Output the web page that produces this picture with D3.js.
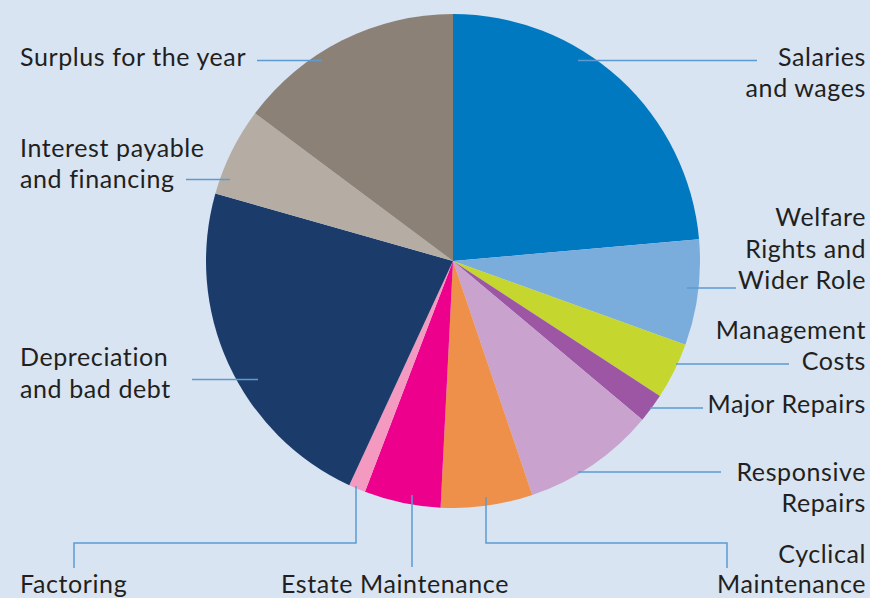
<!DOCTYPE html>
<html>
<head>
<meta charset="utf-8">
<script src="https://cdn.jsdelivr.net/npm/d3@7"></script>
<style>
  html, body { margin: 0; padding: 0; background: #d8e4f2; }
  svg { display: block; }
  text { font-family: "Lato", "Open Sans", sans-serif; fill: #231f20; }
</style>
</head>
<body>
<svg id="chart" width="870" height="598"></svg>
<script>
// ---- data ----
const categories = [
  "Salaries and wages", "Welfare Rights and Wider Role", "Management Costs",
  "Major Repairs", "Responsive Repairs", "Cyclical Maintenance",
  "Estate Maintenance", "Factoring", "Depreciation and bad debt",
  "Interest payable and financing", "Surplus for the year"
];
const values = [23.6, 6.9, 3.7, 1.9, 8.7, 6.0, 5.0, 1.1, 22.5, 5.8, 14.8];
const colors = [
  "#0079c1", "#7aaddc", "#c5d62f", "#9d56a4", "#c9a2cd", "#ee9049",
  "#ec008c", "#f49ac1", "#1b3c6b", "#b5ada3", "#8c8177"
];
const labelLines = [
  ["Salaries", "and wages"],
  ["Welfare", "Rights and", "Wider Role"],
  ["Management", "Costs"],
  ["Major Repairs"],
  ["Responsive", "Repairs"],
  ["Cyclical", "Maintenance"],
  ["Estate Maintenance"],
  ["Factoring"],
  ["Depreciation", "and bad debt"],
  ["Interest payable", "and financing"],
  ["Surplus for the year"]
];

// ---- layout (annotation placement) ----
const cx = 453, cy = 261, R = 247;
const labelLayout = [
  { x: 866, anchor: "end",   y0: 66,  lh: 31, leader: [[578, 60.5], [757, 60.5]] },
  { x: 866, anchor: "end",   y0: 226, lh: 31.5, leader: [[687, 288], [736, 288]] },
  { x: 866, anchor: "end",   y0: 339, lh: 31, leader: [[676, 364], [789, 364]] },
  { x: 866, anchor: "end",   y0: 413, lh: 31, leader: [[650, 408], [703, 408]] },
  { x: 866, anchor: "end",   y0: 481, lh: 31, leader: [[578, 472], [721, 472]] },
  { x: 866, anchor: "end",   y0: 563, lh: 30, leader: [[486, 497], [486, 543], [727, 543], [727, 568]] },
  { x: 281, anchor: "start", y0: 593, lh: 31, leader: [[412, 495], [412, 567]] },
  { x: 20,  anchor: "start", y0: 593, lh: 31, leader: [[356, 486], [356, 543], [74, 543], [74, 568]] },
  { x: 20,  anchor: "start", y0: 366, lh: 32, leader: [[192, 379.5], [258, 379.5]] },
  { x: 20,  anchor: "start", y0: 157, lh: 31, leader: [[186, 179.5], [230, 179.5]] },
  { x: 20,  anchor: "start", y0: 66,  lh: 31, leader: [[257, 60.5], [322, 60.5]] }
];

const svg = d3.select("#chart");
const data = categories.map((c, i) => ({ name: c, value: values[i], i }));

const pie = d3.pie().sort(null).value(d => d.value);
const arc = d3.arc().innerRadius(0).outerRadius(R);

const g = svg.append("g").attr("transform", `translate(${cx},${cy})`);
g.selectAll("path.slice")
  .data(pie(data))
  .join("path")
  .attr("class", "slice")
  .attr("d", arc)
  .attr("fill", d => colors[d.data.i]);

const line = d3.line();
svg.append("g").selectAll("path.leader")
  .data(labelLayout)
  .join("path")
  .attr("class", "leader")
  .attr("d", d => line(d.leader))
  .attr("fill", "none")
  .attr("stroke", "#5b9bd1")
  .attr("stroke-width", 1.5);

const labels = svg.append("g").selectAll("text.label")
  .data(labelLayout)
  .join("text")
  .attr("class", "label")
  .attr("text-anchor", d => d.anchor)
  .attr("font-size", 25)
  .attr("letter-spacing", "0.6px");
labels.each(function(d, i) {
  d3.select(this).selectAll("tspan")
    .data(labelLines[i])
    .join("tspan")
    .attr("x", d.x)
    .attr("y", (t, j) => d.y0 + j * d.lh)
    .text(t => t);
});
</script>
</body>
</html>
